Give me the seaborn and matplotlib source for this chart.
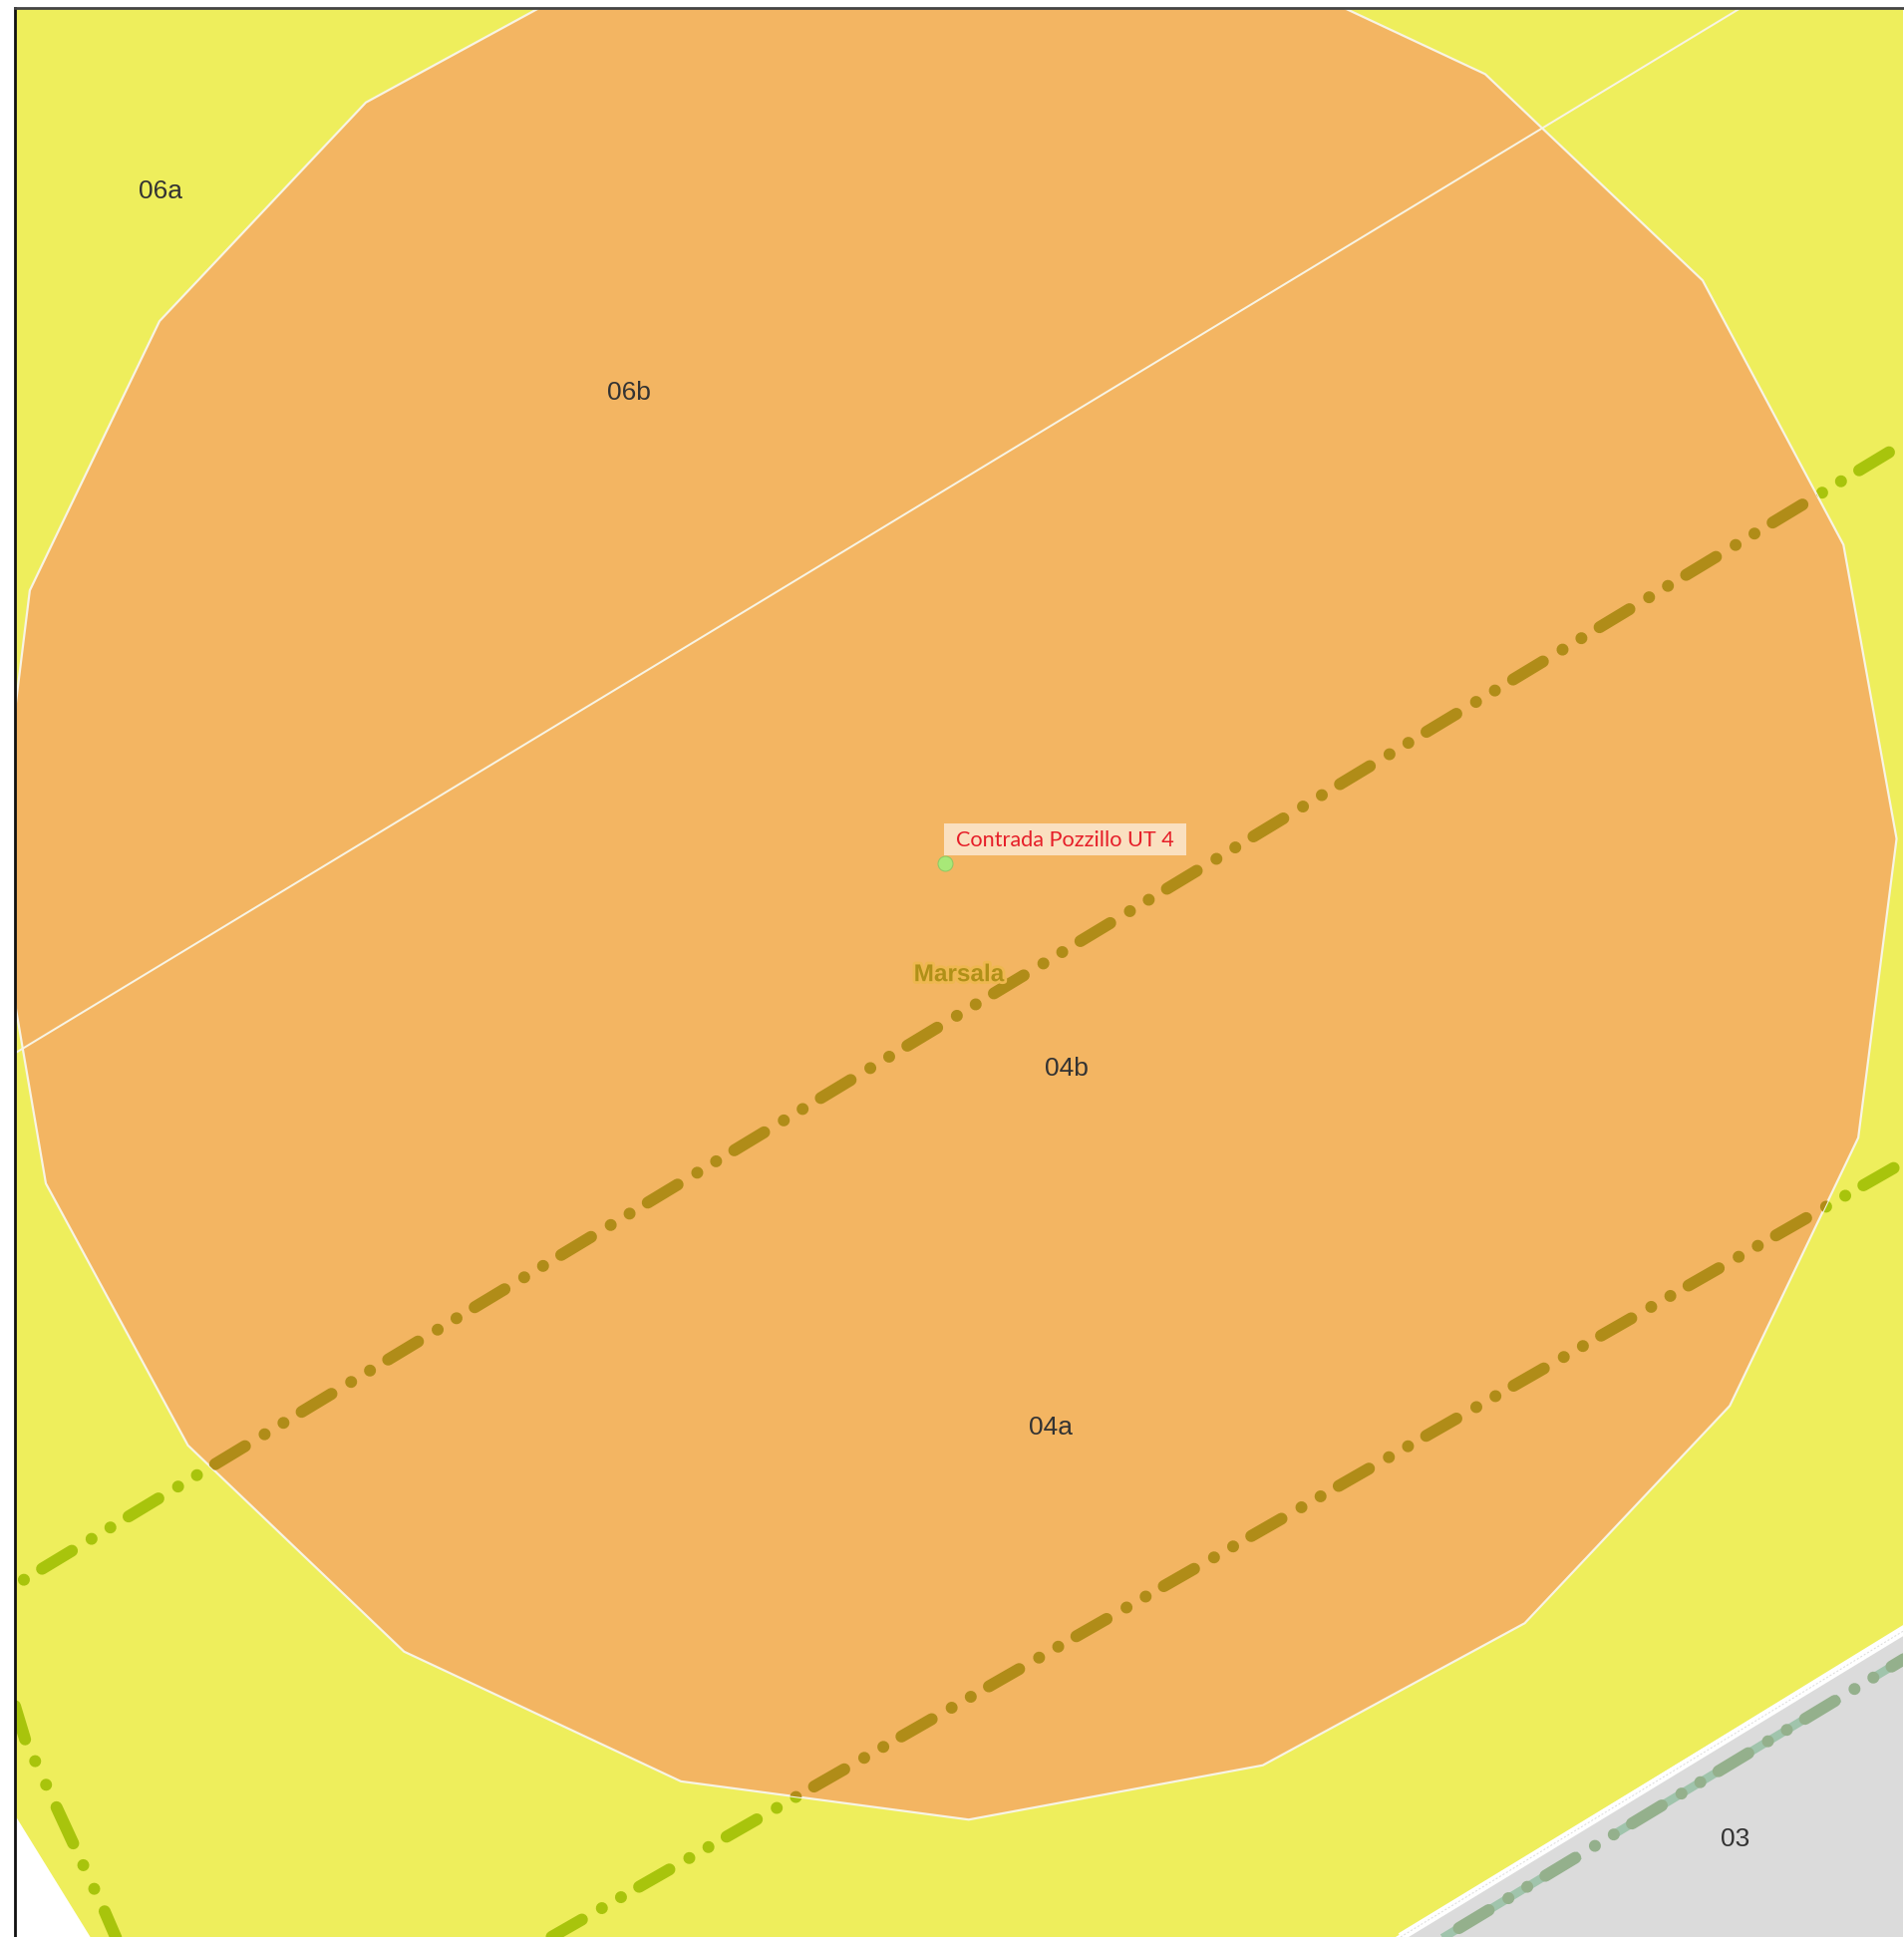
import matplotlib
matplotlib.use("Agg")
import matplotlib.pyplot as plt
import matplotlib.patheffects as pe
import seaborn as sns

sns.set_theme(style="white")

# map vertices
zone_x = [12, 1541, 1541, 1129.5, 73, 13.7, 12]
zone_y = [6.5, 6.5, 1315, 1568, 1568, 1472, 1470]
grey_x = [1541, 1541, 1138]
grey_y = [1323, 1568, 1568]
ring_x = [1202, 1378, 1492, 1535, 1504, 1400, 1234, 1022, 784, 551, 327, 152, 37, -5, 24, 129, 296, 507, 745, 978]
ring_y = [60, 227, 441, 679, 921, 1138, 1314, 1429, 1473, 1442, 1337, 1170, 958, 713, 478, 260, 83, -32, -76, -45]
split_x = [13, 1408]
split_y = [852, 7]
route_a_x = [12, 1541]
route_a_y = [1283.2, 358.8]
route_b_x = [440, 1541]
route_b_y = [1571.6, 940.7]
route_c_x = [12, 20.2, 84.7, 94.4]
route_c_y = [1381, 1408, 1547.5, 1570]
route_d_x = [1164.2, 1541]
route_d_y = [1570.8, 1343]
edge_x = [1133.5, 1541]
edge_y = [1568, 1320]
site_x = [764.5]
site_y = [698.5]
box_x = [764, 960, 960, 764]
box_y = [667, 667, 692.5, 692.5]
zone_labels = ["06a", "06b", "04b", "04a", "03"]
zone_label_x = [130, 509, 863, 850, 1404]
zone_label_y = [155, 318, 865, 1156, 1489]

W, H = 1910, 1943
fig = plt.figure(figsize=(W / 100, H / 100), dpi=100, facecolor="white")
ax = fig.add_axes([15 / W, 0, (1909 - 15) / W, 1 - 8 / H])
ax.set_xlim(12, 1540.2)
ax.set_ylim(1568, 6.5)
ax.set_xticks([])
ax.set_yticks([])
ax.set_xlabel("")
ax.set_ylabel("")
ax.set_facecolor("white")
for name, sp in ax.spines.items():
    sp.set_visible(name in ("left", "top"))
    sp.set_color("#111111" if name == "left" else "#444444")
    sp.set_linewidth(2)
    sp.set_zorder(10)


def path(x, y, color, width_px, dashes=None, offset=0, cap="round", z=2, clip=None):
    sns.lineplot(x=x, y=y, sort=False, estimator=None, errorbar=None, ax=ax, legend=False)
    ln = ax.lines[-1]
    ln.set_color(color)
    ln.set_linewidth(width_px * 0.72)
    ln.set_zorder(z)
    ln.set_solid_capstyle("butt")
    if dashes is not None:
        ln.set_linestyle((offset / width_px, [d / width_px for d in dashes]))
        ln.set_dash_capstyle(cap)
    if clip is not None:
        ln.set_clip_path(clip)
    return ln


ax.fill(zone_x, zone_y, color="#EEEE5C", lw=0, zorder=1)
ax.fill(grey_x, grey_y, color="#DBDBDB", lw=0, zorder=1)
path(edge_x, edge_y, "white", 8.5, z=1.5)
path(edge_x, edge_y, "#DCDCDC", 1, dashes=[2, 2], cap="butt", z=1.6)

dash_a = [35, 23, 0.1, 22, 0.1, 21.23]
dash_b = [35, 23, 0.1, 22, 0.1, 20.9]
dash_c = [40, 24, 0.1, 26, 0.1, 24.8]
path(route_a_x, route_a_y, "#A8C40C", 12, dashes=dash_a, offset=69.7, z=2)
path(route_b_x, route_b_y, "#A8C40C", 12, dashes=dash_b, offset=98.9, z=2)
path(route_c_x, route_c_y, "#A8C40C", 12, dashes=dash_c, offset=5, z=2)

ring = ax.fill(ring_x, ring_y, facecolor="#F3B562", edgecolor="#F8F4E4", lw=1.6, zorder=3, closed=True)[0]
path(route_a_x, route_a_y, "#B08C18", 12, dashes=dash_a, offset=69.7, z=4, clip=ring)
path(route_b_x, route_b_y, "#B08C18", 12, dashes=dash_b, offset=98.9, z=4, clip=ring)
path(split_x, split_y, "#F8F4E4", 2, z=3.5)

path(route_d_x, route_d_y, "#A0C4AC", 8.5, dashes=[262, 42.3], offset=101.3, cap="butt", z=2)
path(route_d_x, route_d_y, "#94B08C", 12, dashes=dash_a, offset=82.3, z=2.5)

sns.scatterplot(x=site_x, y=site_y, s=(15 * 0.72) ** 2, color="#A8E878", edgecolor="#8CC864",
                linewidth=0.7, zorder=6, ax=ax, legend=False)

for lab, lx, ly in zip(zone_labels, zone_label_x, zone_label_y):
    ax.text(lx, ly, lab, ha="center", va="center", fontsize=19, color="#333333",
            family="Liberation Sans", zorder=7)

ax.fill(box_x, box_y, color="#FAE0C0", lw=0, zorder=6.5)
ax.text(862, 680, "Contrada Pozzillo UT 4", ha="center", va="center", fontsize=15.6,
        color="#E61E28", family=["Lato", "DejaVu Sans"], zorder=7)
ax.text(776, 789, "Marsala", ha="center", va="center", fontsize=17.5, fontweight="bold",
        color="#B09018", family=["Liberation Sans"], zorder=5,
        path_effects=[pe.withStroke(linewidth=4, foreground="#EFB850")])

fig.savefig("out.png", dpi=100, facecolor="white")
